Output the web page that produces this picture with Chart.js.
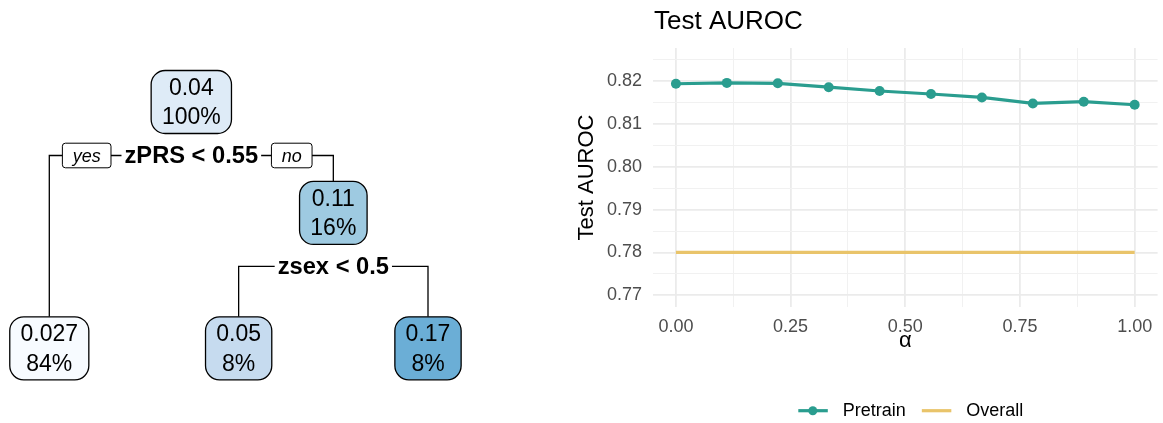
<!DOCTYPE html>
<html>
<head>
<meta charset="utf-8">
<script src="https://cdn.jsdelivr.net/npm/chart.js@4.4.1/dist/chart.umd.min.js"></script>
<style>
  html, body { margin: 0; padding: 0; background: #fff; }
  #wrap { position: relative; width: 1163px; height: 423px; }
  canvas { position: absolute; top: 0; }
  #tree { left: 0; }
  #auroc { left: 570px; }
</style>
</head>
<body>
<div id="wrap">
  <canvas id="tree" width="570" height="423"></canvas>
  <canvas id="auroc" width="593" height="423"></canvas>
</div>
<script>
/* ── data: regression tree (nodes in preorder) ── */
const nodeValue   = ['0.04', '0.027', '0.11', '0.05', '0.17'];
const nodePercent = ['100%', '84%', '16%', '8%', '8%'];
const nodeSplit   = ['zPRS < 0.55', '', 'zsex < 0.5', '', ''];
const nodeKids    = [[1, 2], [], [3, 4], [], []];
const branchLabels = ['yes', 'no'];

/* ── data: test AUROC vs alpha ── */
const chartTitle = 'Test AUROC';
const alpha = [0, 0.111, 0.222, 0.333, 0.444, 0.556, 0.667, 0.778, 0.889, 1];
const pretrainAuroc = [0.8194, 0.8196, 0.8195, 0.8186, 0.8177, 0.8170, 0.8162, 0.8148, 0.8152, 0.8145];
const overallAuroc  = [0.78, 0.78, 0.78, 0.78, 0.78, 0.78, 0.78, 0.78, 0.78, 0.78];
const xMajor = [0, 0.25, 0.5, 0.75, 1];
const xMinor = [0.125, 0.375, 0.625, 0.875];
const yMajor = [0.77, 0.78, 0.79, 0.80, 0.81, 0.82];
const yMinor = [0.775, 0.785, 0.795, 0.805, 0.815, 0.825];

/* ── styles ── */
const FONT = "'Liberation Sans', Arial, Helvetica, sans-serif";
const nodeFill = ['#DEEBF7', '#F7FBFF', '#9ECAE1', '#C6DBEF', '#6BAED6'];
const TEAL = '#2A9D8F';
const GOLD = '#E9C46A';
const LEAF_ROW = 2.22;
Chart.defaults.font.family = FONT;

/* tree layout: leaves spread in order, parents centred over children */
const treePos = [];
let leafCount = 0;
function place(i, depth) {
  if (!nodeKids[i].length) {
    treePos[i] = {x: leafCount++, y: LEAF_ROW};
    return treePos[i].x;
  }
  const xs = nodeKids[i].map(c => place(c, depth + 1));
  treePos[i] = {x: (xs[0] + xs[1]) / 2, y: depth};
  return treePos[i].x;
}
place(0, 0);

const treeDraw = {
  id: 'treeDraw',
  afterDatasetsDraw(chart) {
    const ctx = chart.ctx;
    const pts = chart.getDatasetMeta(0).data;
    const BOX_H = 63, SPLIT_DY = 53.5;
    ctx.save();
    ctx.lineWidth = 1.3;
    ctx.strokeStyle = '#000';
    ctx.textAlign = 'center';
    ctx.textBaseline = 'middle';

    // branches
    nodeKids.forEach((kids, i) => {
      if (!kids.length) return;
      const sy = pts[i].y + SPLIT_DY;
      const [a, b] = kids.map(c => pts[c]);
      ctx.beginPath();
      ctx.moveTo(a.x, a.y - BOX_H / 2);
      ctx.lineTo(a.x, sy);
      ctx.lineTo(b.x, sy);
      ctx.lineTo(b.x, b.y - BOX_H / 2);
      ctx.stroke();
    });

    // split labels
    nodeKids.forEach((kids, i) => {
      if (!kids.length) return;
      const p = pts[i], sy = p.y + SPLIT_DY;
      ctx.font = `bold 23.7px ${FONT}`;
      const w = ctx.measureText(nodeSplit[i]).width;
      ctx.fillStyle = '#fff';
      ctx.fillRect(p.x - w / 2 - 3, sy - 13, w + 6, 26);
      ctx.fillStyle = '#000';
      ctx.fillText(nodeSplit[i], p.x, sy + 1);
      if (i !== 0) return;
      ctx.font = `italic 18px ${FONT}`;
      ctx.lineWidth = 1;
      branchLabels.forEach((lab, j) => {
        const bw = ctx.measureText(lab).width + 20.6;
        const bx = j === 0 ? p.x - w / 2 - 13.5 - bw : p.x + w / 2 + 13.3;
        ctx.beginPath();
        ctx.roundRect(bx, sy - 12.3, bw, 24.6, 3);
        ctx.fillStyle = '#fff';
        ctx.fill();
        ctx.stroke();
        ctx.fillStyle = '#000';
        ctx.fillText(lab, bx + bw / 2, sy + 1);
      });
      ctx.lineWidth = 1.3;
    });

    // node boxes
    ctx.font = `23px ${FONT}`;
    pts.forEach((p, i) => {
      const w = Math.max(ctx.measureText(nodeValue[i]).width, ctx.measureText(nodePercent[i]).width) + 21.5;
      ctx.beginPath();
      ctx.roundRect(p.x - w / 2, p.y - BOX_H / 2, w, BOX_H, 14);
      ctx.fillStyle = nodeFill[i];
      ctx.fill();
      ctx.stroke();
      ctx.fillStyle = '#000';
      ctx.fillText(nodeValue[i], p.x, p.y - 13.5);
      ctx.fillText(nodePercent[i], p.x, p.y + 16);
    });
    ctx.restore();
  },
};

new Chart(document.getElementById('tree'), {
  type: 'scatter',
  data: {datasets: [{data: treePos, pointRadius: 0}]},
  options: {
    responsive: false, animation: false, events: [],
    layout: {padding: {left: 49.3, right: 142, top: 102, bottom: 74.7}},
    plugins: {legend: {display: false}, tooltip: {enabled: false}},
    scales: {
      x: {display: false, min: 0, max: leafCount - 1},
      y: {display: false, reverse: true, min: 0, max: LEAF_ROW},
    },
  },
  plugins: [treeDraw],
});

/* ── AUROC line chart ── */
const isMajor = (list, v) => list.some(m => Math.abs(m - v) < 1e-9);
const gridColor = list => c => (c.tick && isMajor(list, c.tick.value)) ? '#EBEBEB' : '#F1F1F1';
const gridWidth = list => c => (c.tick && isMajor(list, c.tick.value)) ? 1.8 : 1;

const aurocText = {
  id: 'aurocText',
  afterDraw(chart) {
    const {ctx, chartArea} = chart;
    ctx.save();
    ctx.fillStyle = '#000';
    ctx.font = `26px ${FONT}`;
    ctx.textAlign = 'left';
    ctx.textBaseline = 'alphabetic';
    ctx.fillText(chartTitle, chartArea.left + 1, 28.5);

    // legend
    let x = 228.3;
    const y = 410.7;
    ctx.font = `18px ${FONT}`;
    ctx.textBaseline = 'middle';
    chart.data.datasets.forEach(ds => {
      ctx.strokeStyle = ds.borderColor;
      ctx.lineWidth = ds.borderWidth;
      ctx.beginPath();
      ctx.moveTo(x, y);
      ctx.lineTo(x + 29.5, y);
      ctx.stroke();
      if (ds.pointRadius) {
        ctx.beginPath();
        ctx.arc(x + 14.5, y, 4.5, 0, Math.PI * 2);
        ctx.fillStyle = ds.borderColor;
        ctx.fill();
      }
      x += 29.5 + 15;
      ctx.fillStyle = '#000';
      ctx.fillText(ds.label, x, y);
      x += ctx.measureText(ds.label).width + 16;
    });
    ctx.restore();
  },
};

new Chart(document.getElementById('auroc'), {
  type: 'line',
  data: {
    datasets: [
      {
        label: 'Pretrain',
        data: alpha.map((a, i) => ({x: a, y: pretrainAuroc[i]})),
        borderColor: TEAL, backgroundColor: TEAL,
        borderWidth: 3.2, pointRadius: 5, pointHoverRadius: 5, pointBorderWidth: 0,
      },
      {
        label: 'Overall',
        data: alpha.map((a, i) => ({x: a, y: overallAuroc[i]})),
        borderColor: GOLD, backgroundColor: GOLD,
        borderWidth: 3.2, pointRadius: 0, pointHoverRadius: 0,
      },
    ],
  },
  options: {
    responsive: false, animation: false, events: [],
    layout: {padding: {left: 0, right: 5.4, top: 48, bottom: 66}},
    plugins: {legend: {display: false}, tooltip: {enabled: false}},
    scales: {
      x: {
        type: 'linear', min: -0.05, max: 1.05,
        afterBuildTicks: s => { s.ticks = [...xMajor, ...xMinor].sort((a, b) => a - b).map(v => ({value: v})); },
        afterFit: s => { s.height = 50; },
        border: {display: false},
        grid: {color: gridColor(xMajor), lineWidth: gridWidth(xMajor), drawTicks: false},
        ticks: {
          padding: 9, color: '#4D4D4D', font: {size: 18}, maxRotation: 0, autoSkip: false,
          callback: v => isMajor(xMajor, v) ? v.toFixed(2) : '',
        },
        title: {display: true, text: 'α', color: '#000', font: {size: 22, lineHeight: 1}, padding: {top: 0, bottom: 5}},
      },
      y: {
        type: 'linear', min: 0.76725, max: 0.82775,
        afterBuildTicks: s => { s.ticks = [...yMajor, ...yMinor].sort((a, b) => a - b).map(v => ({value: v})); },
        afterFit: s => { s.width = 83; },
        border: {display: false},
        grid: {color: gridColor(yMajor), lineWidth: gridWidth(yMajor), drawTicks: false},
        ticks: {
          padding: 11, color: '#4D4D4D', font: {size: 18}, autoSkip: false,
          callback: v => isMajor(yMajor, v) ? v.toFixed(2) : '',
        },
        title: {display: true, text: 'Test AUROC', color: '#000', font: {size: 22, lineHeight: 1}, padding: {top: 6, bottom: 0}},
      },
    },
  },
  plugins: [aurocText],
});
</script>
</body>
</html>
